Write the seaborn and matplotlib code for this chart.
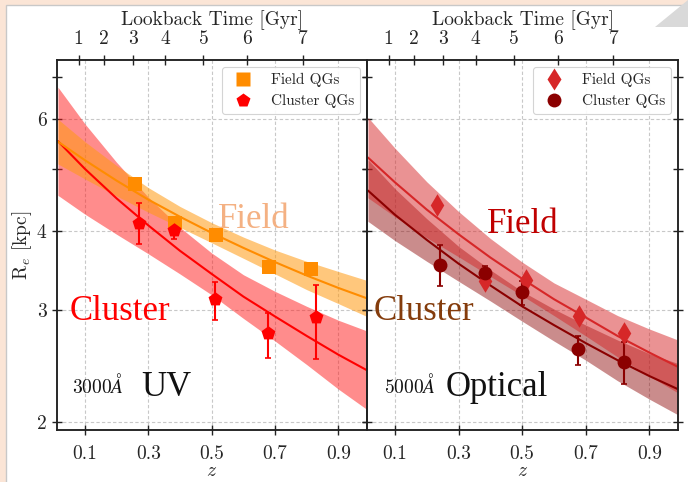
import matplotlib
matplotlib.use("Agg")
import matplotlib.pyplot as plt
from matplotlib.lines import Line2D
from matplotlib.patches import Rectangle, Polygon
from matplotlib.ticker import FixedLocator, FixedFormatter, NullFormatter
import seaborn as sns

# ---------------- data ----------------
z_grid = [0.015, 0.1, 0.2, 0.3, 0.4, 0.5, 0.6, 0.7, 0.8, 0.9, 0.99]

# 3000A UV panel: fitted relations and confidence bands
uv_field_fit = [5.53, 5.17, 4.80, 4.48, 4.21, 3.97, 3.76, 3.57, 3.40, 3.25, 3.13]
uv_field_hi = [6.00, 5.53, 5.07, 4.68, 4.37, 4.12, 3.91, 3.73, 3.58, 3.45, 3.34]
uv_field_lo = [5.10, 4.83, 4.54, 4.28, 4.05, 3.83, 3.62, 3.42, 3.23, 3.07, 2.93]
uv_cluster_fit = [5.54, 5.01, 4.50, 4.08, 3.72, 3.42, 3.15, 2.93, 2.73, 2.55, 2.41]
uv_cluster_hi = [6.74, 5.90, 5.13, 4.52, 4.05, 3.69, 3.41, 3.21, 3.04, 2.89, 2.78]
uv_cluster_lo = [4.55, 4.25, 3.95, 3.68, 3.42, 3.17, 2.91, 2.68, 2.46, 2.25, 2.09]

# 3000A UV panel: measurements
uv_field_z = [0.257, 0.383, 0.514, 0.680, 0.814]
uv_field_r = [4.74, 4.11, 3.94, 3.51, 3.48]
uv_cluster_z = [0.271, 0.381, 0.509, 0.678, 0.829]
uv_cluster_r = [4.12, 4.01, 3.12, 2.76, 2.92]
uv_cluster_r_hi = [4.42, 4.11, 3.32, 2.97, 3.28]
uv_cluster_r_lo = [3.81, 3.88, 2.89, 2.52, 2.51]

# 5000A optical panel: fitted relations and confidence bands
opt_field_fit = [5.22, 4.77, 4.32, 3.95, 3.63, 3.36, 3.12, 2.92, 2.73, 2.57, 2.44]
opt_field_hi = [6.04, 5.40, 4.78, 4.29, 3.89, 3.57, 3.31, 3.12, 2.94, 2.80, 2.69]
opt_field_lo = [4.51, 4.21, 3.90, 3.64, 3.39, 3.16, 2.94, 2.73, 2.53, 2.36, 2.22]
opt_cluster_fit = [4.63, 4.24, 3.87, 3.55, 3.28, 3.04, 2.84, 2.66, 2.50, 2.36, 2.25]
opt_cluster_hi = [5.18, 4.66, 4.18, 3.78, 3.47, 3.21, 3.01, 2.84, 2.69, 2.56, 2.47]
opt_cluster_lo = [4.14, 3.86, 3.58, 3.33, 3.10, 2.88, 2.68, 2.50, 2.32, 2.17, 2.05]

# 5000A optical panel: measurements
opt_field_z = [0.233, 0.382, 0.513, 0.680, 0.820]
opt_field_r = [4.39, 3.33, 3.35, 2.94, 2.76]
opt_cluster_z = [0.243, 0.384, 0.499, 0.677, 0.820]
opt_cluster_r = [3.53, 3.43, 3.20, 2.60, 2.48]
opt_cluster_r_hi = [3.80, 3.52, 3.33, 2.73, 2.67]
opt_cluster_r_lo = [3.27, 3.34, 3.06, 2.46, 2.29]

# axes ticks
z_ticks = [0.1, 0.3, 0.5, 0.7, 0.9]
z_tick_labels = ["0.1", "0.3", "0.5", "0.7", "0.9"]
r_major = [2, 3, 4, 6]
r_major_labels = ["2", "3", "4", "6"]
r_minor = [5, 7]
lookback_z = [0.080, 0.160, 0.252, 0.354, 0.474, 0.612, 0.787]
lookback_labels = ["1", "2", "3", "4", "5", "6", "7"]
legend_labels = ["Field QGs", "Cluster QGs"]

# ---------------- style ----------------
sns.set_style("ticks")
plt.rcParams.update({
    "font.family": ["serif"],
    "font.serif": ["cmr10", "DejaVu Serif"],
    "mathtext.fontset": "cm",
    "axes.formatter.use_mathtext": True,
    "axes.unicode_minus": False,
    "axes.edgecolor": "#222222",
    "axes.linewidth": 1.1,
})

W, H = 688, 482
fig = plt.figure(figsize=(W / 100, H / 100), dpi=100)
fig.patch.set_facecolor("#fbe5d6")
# white slide panel
fig.add_artist(Rectangle((6 / W, -0.05), 1.0, (H - 5) / H + 0.05, transform=fig.transFigure,
                         facecolor="white", edgecolor="#c8c8c8", lw=1.0, zorder=-10))
fig.add_artist(Polygon([(655 / W, 1 - 27 / H), (1.0, 1.0), (1.0, 1 - 27 / H)], closed=True,
                       transform=fig.transFigure, facecolor="#d9d9d9", edgecolor="none", zorder=-9))

ax_bottom, ax_height = (H - 430) / H, 370 / H
axL = fig.add_axes([57 / W, ax_bottom, 310 / W, ax_height])
axR = fig.add_axes([367 / W, ax_bottom, 311 / W, ax_height])


def style_axes(ax, show_ylabels):
    ax.set_yscale("log")
    ax.set_xlim(0.012, 0.99)
    ax.set_ylim(1.94, 7.44)
    ax.xaxis.set_major_locator(FixedLocator(z_ticks))
    ax.xaxis.set_major_formatter(FixedFormatter(z_tick_labels))
    ax.xaxis.set_minor_locator(FixedLocator([]))
    ax.yaxis.set_major_locator(FixedLocator(r_major))
    ax.yaxis.set_major_formatter(FixedFormatter(r_major_labels))
    ax.yaxis.set_minor_locator(FixedLocator(r_minor))
    ax.yaxis.set_minor_formatter(NullFormatter())
    ax.tick_params(axis="both", which="both", direction="inout", length=7, width=1.0,
                   labelsize=14, right=True, top=False, color="#222222")
    ax.tick_params(axis="x", pad=7)
    ax.tick_params(axis="y", pad=4, labelleft=show_ylabels)
    ax.grid(True, which="major", ls=(0, (3, 2)), color="#c8c8c8", lw=0.8)
    ax.set_axisbelow(True)
    ax.set_xlabel("$z$", fontsize=14)
    ax.xaxis.set_label_coords(0.5, -0.086)

    top = ax.twiny()
    top.set_xlim(ax.get_xlim())
    top.xaxis.set_major_locator(FixedLocator(lookback_z))
    top.xaxis.set_major_formatter(FixedFormatter(lookback_labels))
    top.tick_params(axis="x", direction="inout", length=7, width=1.0, labelsize=14, pad=5,
                    color="#222222")
    top.set_xlabel("Lookback Time [Gyr]", fontsize=14, labelpad=4)
    top.grid(False)


def draw_panel(ax, field, cluster, fcol, ccol, fband, cband, falpha, calpha, fmark, cmark, fms, cms):
    ffit, fhi, flo, fz, fr = field
    cfit, chi, clo, cz, cr, crhi, crlo = cluster
    ax.fill_between(z_grid, clo, chi, color=cband, alpha=calpha, lw=0, zorder=1)
    ax.fill_between(z_grid, flo, fhi, color=fband, alpha=falpha, lw=0, zorder=1)
    sns.lineplot(x=z_grid, y=cfit, ax=ax, color=ccol, lw=1.5, legend=False, zorder=2)
    sns.lineplot(x=z_grid, y=ffit, ax=ax, color=fcol, lw=1.5, legend=False, zorder=2)
    yerr = [[r - lo for r, lo in zip(cr, crlo)], [hi - r for r, hi in zip(cr, crhi)]]
    ax.errorbar(cz, cr, yerr=yerr, fmt="none", ecolor=ccol, elinewidth=1.5, capsize=2,
                capthick=1.2, zorder=3)
    sns.scatterplot(x=fz, y=fr, ax=ax, marker=fmark, color=fcol, s=fms ** 2, linewidth=0,
                    legend=False, zorder=4)
    sns.scatterplot(x=cz, y=cr, ax=ax, marker=cmark, color=ccol, s=cms ** 2, linewidth=0,
                    legend=False, zorder=4)
    handles = [Line2D([], [], ls="none", marker=fmark, color=fcol, ms=fms, mec="none"),
               Line2D([], [], ls="none", marker=cmark, color=ccol, ms=cms, mec="none")]
    leg = ax.legend(handles, legend_labels, loc="upper right", fontsize=11, frameon=True,
                    fancybox=True, framealpha=0.9, edgecolor="#d0d0d0", borderaxespad=0.45,
                    handletextpad=0.8, labelspacing=0.45)
    leg.get_frame().set_linewidth(0.8)


style_axes(axL, True)
style_axes(axR, False)

draw_panel(axL,
           (uv_field_fit, uv_field_hi, uv_field_lo, uv_field_z, uv_field_r),
           (uv_cluster_fit, uv_cluster_hi, uv_cluster_lo, uv_cluster_z, uv_cluster_r,
            uv_cluster_r_hi, uv_cluster_r_lo),
           fcol="#ff8c00", ccol="#ff0000", fband="#ff9a10", cband="#ff1a1a",
           falpha=0.55, calpha=0.5, fmark="s", cmark="p", fms=10, cms=10.5)
draw_panel(axR,
           (opt_field_fit, opt_field_hi, opt_field_lo, opt_field_z, opt_field_r),
           (opt_cluster_fit, opt_cluster_hi, opt_cluster_lo, opt_cluster_z, opt_cluster_r,
            opt_cluster_r_hi, opt_cluster_r_lo),
           fcol="#d62728", ccol="#8b0000", fband="#d62728", cband="#8b0000",
           falpha=0.5, calpha=0.45, fmark="d", cmark="o", fms=11.5, cms=10)

axL.set_ylabel("R$_e$ [kpc]", fontsize=14)
axL.yaxis.set_label_coords(-0.075, 0.5)


def ftext(x, y, s, **kw):
    fig.text(x / W, 1 - y / H, s, transform=fig.transFigure, va="baseline", ha="left", **kw)


big = dict(family=["Liberation Serif", "DejaVu Serif"], fontsize=25)
ftext(218, 228, "Field", color="#f4b183", **big)
ftext(70, 320, "Cluster", color="#ff0000", **big)
ftext(487, 233, "Field", color="#c00000", **big)
ftext(374, 320, "Cluster", color="#843c0c", **big)
ftext(72, 393, r"$3000\AA$", color="#111111", fontsize=14)
ftext(141, 396, "UV", color="#111111", **big)
ftext(384, 393, r"$5000\AA$", color="#111111", fontsize=14)
ftext(446, 396, "Optical", color="#111111", **big)

fig.savefig("out.png", dpi=100, facecolor=fig.get_facecolor())
